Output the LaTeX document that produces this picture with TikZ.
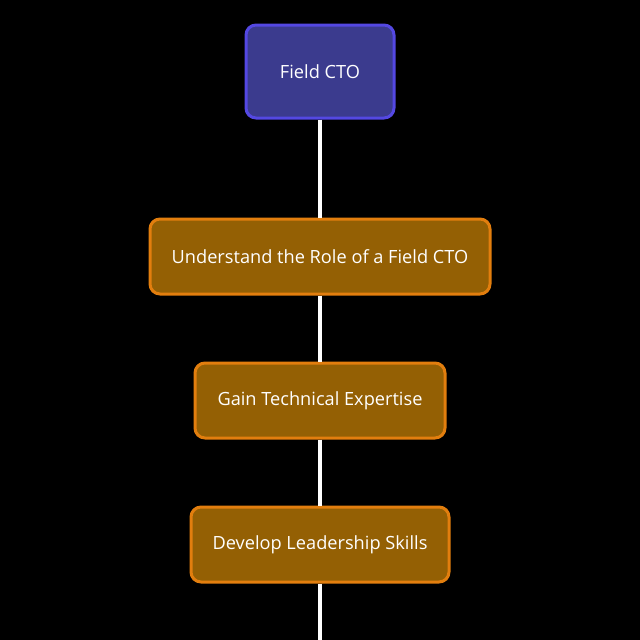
\documentclass[tikz,border=0pt]{standalone}
\usepackage{fontspec}
\setmainfont{Open Sans}
\definecolor{bluefill}{HTML}{3B3B8E}
\definecolor{blueline}{HTML}{5448E2}
\definecolor{brownfill}{HTML}{946004}
\definecolor{brownline}{HTML}{E27E0E}
\begin{document}
\begin{tikzpicture}[x=1pt,y=-1pt,
  box/.style={rounded corners=10pt, line width=3pt, text=white, font=\fontsize{18.2}{22}\selectfont, inner sep=0pt, anchor=center},
  ctobox/.style={box, draw=blueline, fill=bluefill, minimum width=148pt, minimum height=93pt},
  stepbox/.style={box, draw=brownline, fill=brownfill, minimum height=75pt},
  link/.style={draw=white, line width=3.5pt}]
\fill[black] (0,0) rectangle (640,640);
\useasboundingbox (0,0) rectangle (640,640);
\coordinate (bottom) at (320,640);
\node[ctobox] (cto) at (320,71.5) {Field CTO};
\node[stepbox, minimum width=340pt] (s1) at (320,256.5) {Understand the Role of a Field CTO};
\node[stepbox, minimum width=250pt] (s2) at (320,400.5) {Gain Technical Expertise};
\node[stepbox, minimum width=258pt] (s3) at (320,544.5) {Develop Leadership Skills};
\draw[link] (cto.south) -- (s1.north);
\draw[link] (s1.south) -- (s2.north);
\draw[link] (s2.south) -- (s3.north);
\draw[link] (s3.south) -- (bottom);
\end{tikzpicture}
\end{document}
